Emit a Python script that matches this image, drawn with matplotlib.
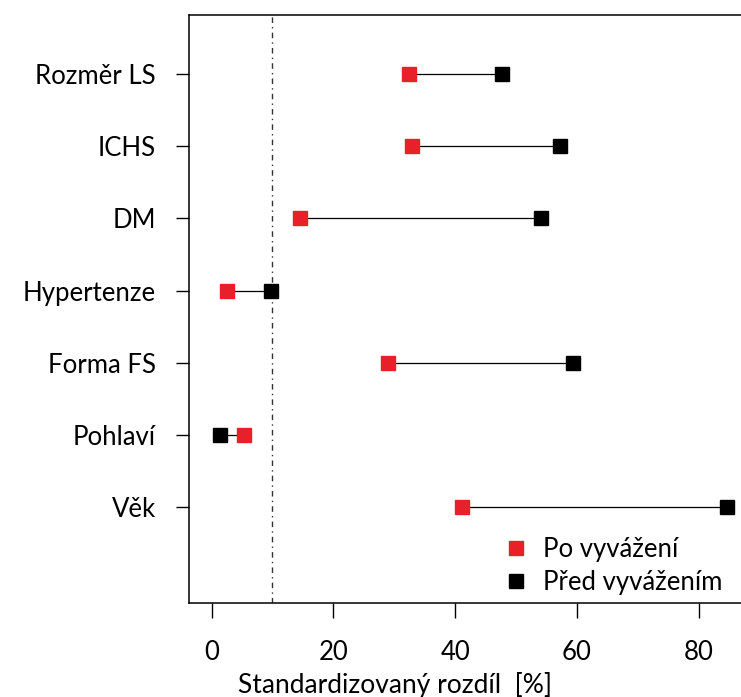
import numpy as np
import matplotlib
matplotlib.use("Agg")
import matplotlib.pyplot as plt
from matplotlib.lines import Line2D

plt.rcParams['font.family'] = ['Lato', 'DejaVu Sans']

# covariates from top to bottom
variables = ["Rozměr LS", "ICHS", "DM", "Hypertenze", "Forma FS", "Pohlaví", "Věk"]
before = [47.7, 57.2, 54.1, 9.8, 59.3, 1.4, 84.6]   # před vyvážením
after = [32.5, 33.0, 14.6, 2.5, 28.9, 5.4, 41.1]    # po vyvážení
threshold = 10
xticks = [0, 20, 40, 60, 80]

red = "#e8202a"
W, H = 741, 697
fs = 18.5

fig = plt.figure(figsize=(W / 100, H / 100), dpi=100)
ax = fig.add_axes([188.5 / W, 94 / H, (745 - 188.5) / W, (682 - 94) / H])

y = np.arange(len(variables), 0, -1)

ax.hlines(y, before, after, color="black", lw=0.9, zorder=2)
ax.plot(after, y, 's', color=red, ms=10.5, mec=red, zorder=3)
ax.plot(before, y, 's', color="black", ms=10.5, zorder=3)
ax.axvline(threshold, color="#333333", lw=1.0, dashes=(4, 3, 1, 3), zorder=1)

ax.set_xlim(-3.78, (745 - 211.5) / 6.09)
ax.set_ylim(-0.33, 7.82)

ax.set_xticks(xticks)
ax.set_yticks(y)
ax.set_yticklabels(variables)
ax.tick_params(axis='x', length=11, width=1, pad=16, labelsize=fs)
ax.tick_params(axis='y', length=9.5, width=1, pad=14, labelsize=fs)
for s in ax.spines.values():
    s.set_linewidth(1.1)

fig.text(395 / W, 4 / H, "Standardizovaný rozdíl  [%]",
         ha='center', va='baseline', fontsize=fs + 0.5)

handles = [Line2D([], [], ls='none', marker='s', color=red, ms=10.5),
           Line2D([], [], ls='none', marker='s', color='black', ms=10.5)]
ax.legend(handles, ["Po vyvážení", "Před vyvážením"], loc='upper left',
          bbox_to_anchor=(503 / W, (697 - 537) / H), bbox_transform=fig.transFigure,
          frameon=False, fontsize=fs, borderpad=0, borderaxespad=0,
          handlelength=1.0, handletextpad=0.55, labelspacing=0.3)

fig.savefig("out.png", dpi=100)
